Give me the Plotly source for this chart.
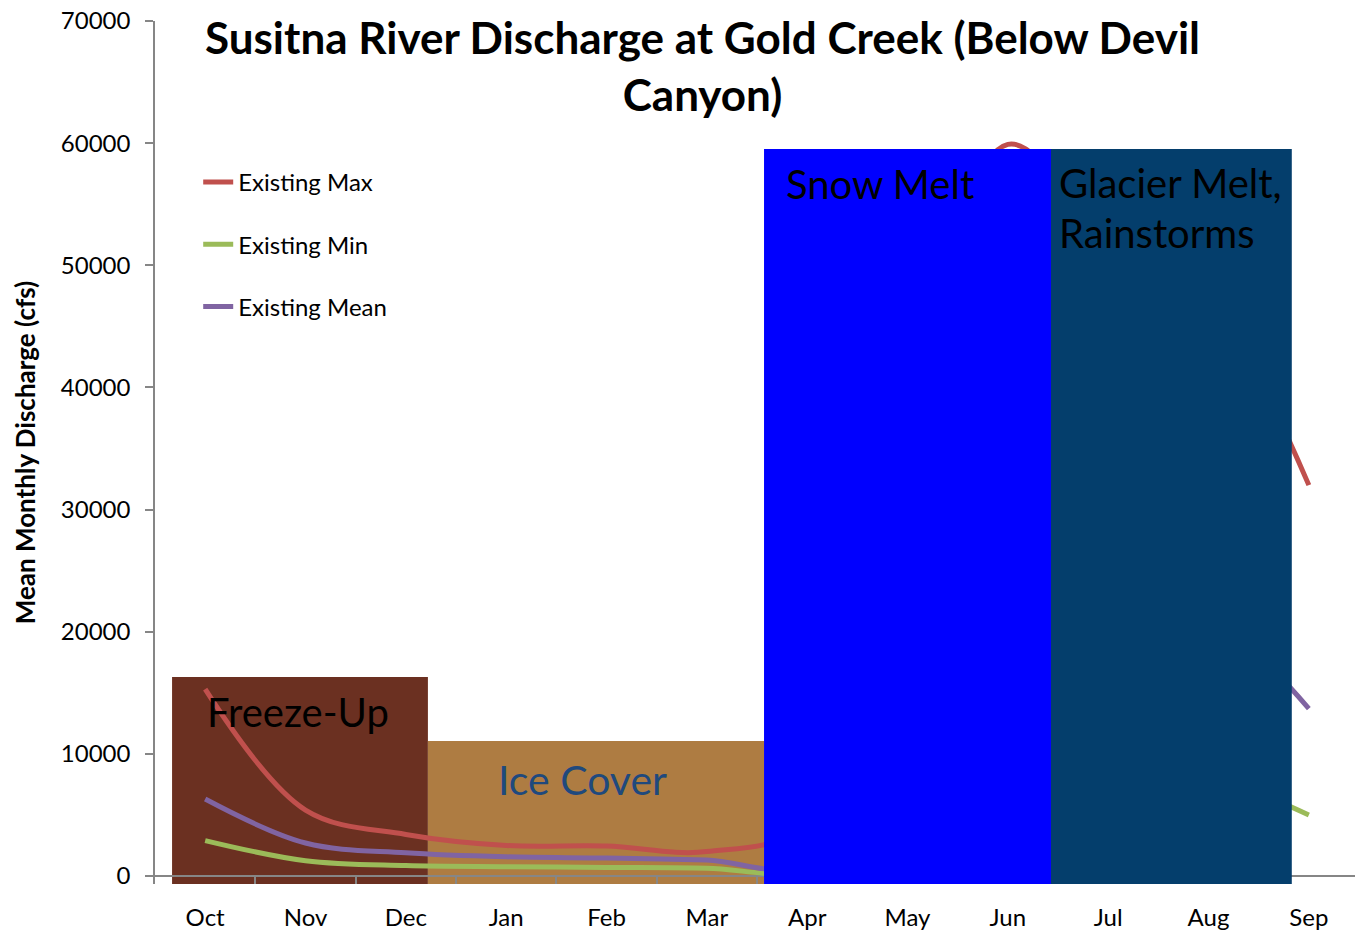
import plotly.graph_objects as go

months = ["Oct", "Nov", "Dec", "Jan", "Feb", "Mar", "Apr", "May", "Jun", "Jul", "Aug", "Sep"]
existing_max = [15300, 5400, 3400, 2500, 2450, 2000, 4500, 38000, 59900, 52000, 47000, 32000]
existing_min = [2900, 1250, 850, 760, 700, 640, 400, 5000, 13000, 11000, 8500, 5000]
existing_mean = [6300, 2700, 1900, 1570, 1470, 1310, 1000, 14000, 27000, 24000, 21500, 13700]

season_names = ["Freeze-Up", "Ice Cover", "Snow Melt", "Glacier Melt,", "Rainstorms"]
season_start = [-0.33, 2.22, 5.57, 8.43]
season_end = [2.22, 5.57, 8.43, 10.83]
season_top = [16300, 11050, 59530, 59530]
season_fill = ["#6B3021", "#AE7C42", "#0000FF", "#043E6C"]
season_layer = ["below", "below", "above", "above"]

FONT = "Lato, Carlito, Calibri, sans-serif"
Y_BOTTOM = -655

fig = go.Figure()
series = [("Existing Max", existing_max, "#C0504D"),
          ("Existing Min", existing_min, "#9BBB59"),
          ("Existing Mean", existing_mean, "#8064A2")]
for name, vals, col in series:
    fig.add_trace(go.Scatter(x=months, y=vals, name=name, mode="lines",
                             line=dict(color=col, width=5, shape="spline"),
                             legendgroup=name))

for s0, s1, top, fill, layer in zip(season_start, season_end, season_top, season_fill, season_layer):
    fig.add_shape(type="rect", xref="x", yref="y", x0=s0, x1=s1, y0=Y_BOTTOM, y1=top,
                  fillcolor=fill, line=dict(width=0), layer=layer)

label_x = [0.0, 2.90, 5.77, 8.49, 8.49]
label_y = [13430, 7940, 56660, 56740, 52640]
label_color = ["black", "#1F497D", "black", "black", "black"]
label_size = [40, 41, 40, 40, 40]
for txt, lx, ly, lc, ls in zip(season_names, label_x, label_y, label_color, label_size):
    fig.add_annotation(text=txt, x=lx, y=ly, xref="x", yref="y", xanchor="left", yanchor="middle",
                       showarrow=False, font=dict(family=FONT, size=ls, color=lc))

fig.update_layout(
    width=1355, height=937,
    margin=dict(l=155, r=0, t=21, b=53),
    paper_bgcolor="white", plot_bgcolor="white",
    font=dict(family=FONT, size=24, color="black"),
    title=dict(text="<b>Susitna River Discharge at Gold Creek (Below Devil<br>Canyon)</b>",
               x=702.5 / 1355, xanchor="center", xref="container",
               y=1 - 54 / 937, yanchor="middle", yref="container",
               font=dict(family=FONT, size=44, color="black")),
    legend=dict(x=0.036, y=0.839, xanchor="left", yanchor="top", bgcolor="rgba(0,0,0,0)",
                font=dict(family=FONT, size=24), tracegroupgap=28),
    showlegend=True,
)
fig.update_xaxes(type="category", range=[-0.5, 11.46], tickson="boundaries",
                 ticks="inside", ticklen=8, tickcolor="#868686", tickwidth=1.5,
                 showline=False, showgrid=False, zeroline=False,
                 ticklabelstandoff=17, tickfont=dict(family=FONT, size=24))
fig.update_yaxes(range=[Y_BOTTOM, 70000], tickvals=[0, 10000, 20000, 30000, 40000, 50000, 60000, 70000],
                 tickformat="d",
                 ticks="outside", ticklen=8, tickcolor="#868686", tickwidth=1.5,
                 showline=True, linecolor="#868686", linewidth=1.5,
                 showgrid=False, zeroline=True, zerolinecolor="#868686", zerolinewidth=1.5,
                 ticklabelstandoff=10, tickfont=dict(family=FONT, size=24),
                 title=dict(text="<b>Mean Monthly Discharge (cfs)</b>", standoff=18,
                            font=dict(family=FONT, size=26)))

fig.write_html("out.html")
